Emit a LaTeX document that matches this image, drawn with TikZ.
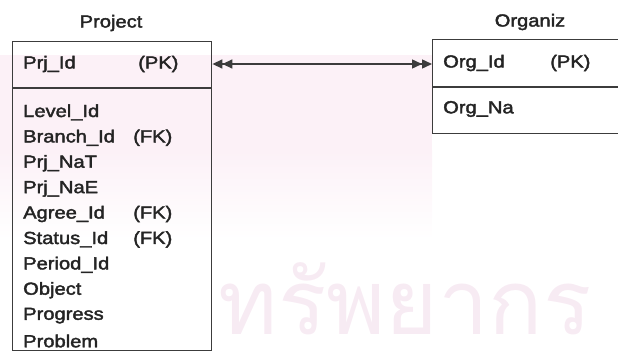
\documentclass[tikz,border=0pt]{standalone}
\usepackage{fontspec}
\setmainfont[FakeStretch=1.15,FakeBold=2.2]{Liberation Sans}
\newfontfamily\thaifont[Script=Thai]{Loma}
\usepackage{xcolor}
\definecolor{LineGray}{RGB}{60,60,60}
\definecolor{TextGray}{RGB}{36,36,36}
\definecolor{WaterPink}{RGB}{247,235,243}
\definecolor{BandPink}{RGB}{252,241,247}
\usetikzlibrary{arrows.meta}
\tikzset{
  field/.style={anchor=west, inner sep=0pt, text=TextGray, font=\fontsize{17.5}{20}\selectfont},
  title/.style={inner sep=0pt, text=TextGray, font=\fontsize{17.5}{20}\selectfont},
  table/.style={draw=LineGray, line width=1.4pt, anchor=north west, inner sep=0pt},
  dbl/.tip={Triangle[length=10pt,width=9pt]Triangle[length=10pt,width=9pt]}
}

\begin{document}
\begin{tikzpicture}[x=1pt,y=-1pt]
\useasboundingbox (0,0) rectangle (618,351);
\clip (0,0) rectangle (618,351);

% watermark
\fill[BandPink] (0,55) rectangle (432,150);
\shade[top color=BandPink, bottom color=white] (0,150) rectangle (432,240);
\node[WaterPink, anchor=base east, inner sep=0pt, text depth=0pt, font=\thaifont\fontsize{90}{90}\selectfont] (wm) at (592,334) {ทรัพยากร};

% project table
\def\row{25.4}
\node[title] (prjT) at (111,23) {Project};
\node[table, minimum width=199pt, minimum height=309pt] (prj) at (12,41) {};
\draw[LineGray, line width=1.4pt] (prj.west |- 0,88) coordinate (PD1) -- (prj.east |- PD1);
\node[field] (pid) at (23,64) {Prj\_Id};
\node[field] (ppk) at (138,64) {(PK)};
\foreach \t [count=\i] in {Level\_Id,Branch\_Id,Prj\_NaT,Prj\_NaE,Agree\_Id,Status\_Id,Period\_Id,Object,Progress,Problem}
  \node[field] (a\i) at (23,{87+\row*\i}) {\t};
\foreach \i in {2,5,6}
  \node[field] (fk\i) at (133,{87+\row*\i}) {(FK)};

% organiz table
\node[title] (orgT) at (530,22) {Organiz};
\node[table, fill=white, minimum width=220pt, minimum height=94pt] (org) at (432,39) {};
\draw[LineGray, line width=1.4pt] (org.west |- 0,87) coordinate (OD1) -- (org.east |- OD1);
\node[field] (oid) at (443,63) {Org\_Id};
\node[field] (opk) at (550,63) {(PK)};
\node[field] (ona) at (443,109) {Org\_Na};

% relation
\draw[LineGray, line width=1.4pt, dbl-dbl] (prj.east |- pid) -- (org.west |- pid);
\end{tikzpicture}
\end{document}
